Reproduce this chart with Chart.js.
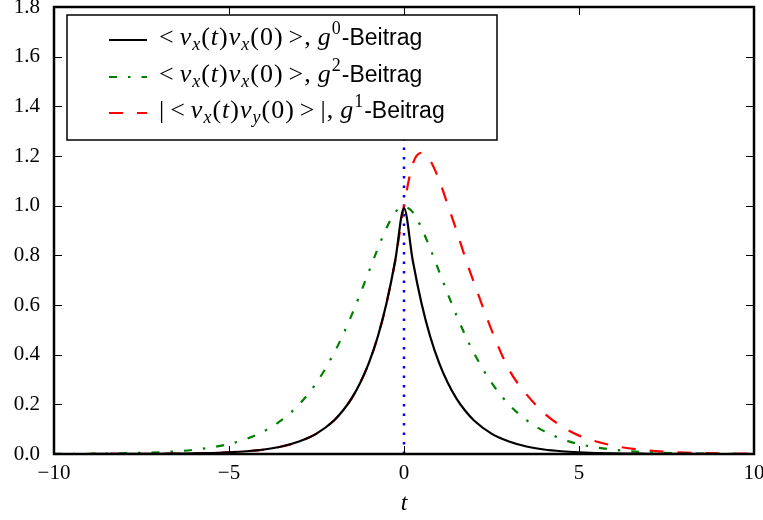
<!DOCTYPE html>
<html>
<head>
<meta charset="utf-8">
<script src="https://cdn.jsdelivr.net/npm/chart.js@4.4.1/dist/chart.umd.min.js"></script>
<style>
  html, body { margin: 0; padding: 0; background: #fff; }
  #wrap { width: 763px; height: 520px; }
</style>
</head>
<body>
<div id="wrap"><canvas id="corrChart" width="763" height="520"></canvas></div>
<script>
// t-Werte (gemeinsam für alle Kurven)
const tValues = [-10, -9, -8, -7, -6, -5, -4.5, -4, -3.5, -3, -2.5, -2, -1.75, -1.5, -1.25, -1, -0.75, -0.5, -0.25,
    0, 0.25, 0.5, 0.75, 1, 1.25, 1.5, 1.75, 2, 2.5, 3, 3.5, 4, 4.5, 5, 6, 7, 8, 9, 10];

// <vx(t)vx(0)>, g^0-Beitrag
const g0Values = [0, 0.0001, 0.0003, 0.001, 0.0025, 0.007, 0.011, 0.018, 0.03, 0.05, 0.082, 0.135, 0.174, 0.223, 0.287, 0.368, 0.472, 0.607, 0.779,
    0.99, 0.779, 0.607, 0.472, 0.368, 0.287, 0.223, 0.174, 0.135, 0.082, 0.05, 0.03, 0.018, 0.011, 0.007, 0.0025, 0.001, 0.0003, 0.0001, 0];

// <vx(t)vx(0)>, g^2-Beitrag
const g2Values = [0.0005, 0.001, 0.003, 0.007, 0.017, 0.04, 0.061, 0.092, 0.136, 0.199, 0.287, 0.406, 0.478, 0.558, 0.645, 0.736, 0.827, 0.91, 0.974,
    0.995, 0.974, 0.91, 0.827, 0.736, 0.645, 0.558, 0.478, 0.406, 0.287, 0.199, 0.136, 0.092, 0.061, 0.04, 0.017, 0.007, 0.003, 0.001, 0.0005];

// |<vx(t)vy(0)>|, g^1-Beitrag
const g1Values = [0, 0.0001, 0.0003, 0.001, 0.0025, 0.007, 0.011, 0.018, 0.03, 0.05, 0.082, 0.135, 0.174, 0.223, 0.287, 0.368, 0.472, 0.607, 0.779,
    1.0, 1.168, 1.213, 1.181, 1.104, 1.003, 0.9, 0.79, 0.69, 0.5, 0.34, 0.24, 0.165, 0.112, 0.074, 0.033, 0.014, 0.006, 0.0023, 0.001];

// vertikale Linie bei t = 0
const markerX = [0, 0];
const markerY = [0, 1.8];

const xTicks = [-10, -5, 0, 5, 10];
const yTicks = [0.0, 0.2, 0.4, 0.6, 0.8, 1.0, 1.2, 1.4, 1.6, 1.8];

const toPoints = (xs, ys) => xs.map((x, i) => ({ x: x, y: ys[i] }));

const serif = '"Liberation Serif", "DejaVu Serif", serif';
const sans = '"Liberation Sans", "DejaVu Sans", sans-serif';

// Legend entries (segments: r = roman, i = italic, sub, sup, s = sans, sp = space)
const legendRows = [
    [['r', '<'], ['sp', 5], ['i', 'v'], ['sub', 'x'], ['r', '('], ['i', 't'], ['r', ')'], ['i', 'v'], ['sub', 'x'], ['r', '('], ['r', '0'], ['r', ')'], ['sp', 5], ['r', '>'], ['r', ','], ['sp', 6], ['i', 'g'], ['sup', '0'], ['s', '-Beitrag']],
    [['r', '<'], ['sp', 5], ['i', 'v'], ['sub', 'x'], ['r', '('], ['i', 't'], ['r', ')'], ['i', 'v'], ['sub', 'x'], ['r', '('], ['r', '0'], ['r', ')'], ['sp', 5], ['r', '>'], ['r', ','], ['sp', 6], ['i', 'g'], ['sup', '2'], ['s', '-Beitrag']],
    [['r', '|'], ['sp', 5], ['r', '<'], ['sp', 5], ['i', 'v'], ['sub', 'x'], ['r', '('], ['i', 't'], ['r', ')'], ['i', 'v'], ['sub', 'y'], ['r', '('], ['r', '0'], ['r', ')'], ['sp', 5], ['r', '>'], ['sp', 5], ['r', '|'], ['r', ','], ['sp', 6], ['i', 'g'], ['sup', '1'], ['s', '-Beitrag']]
];

function segFont(kind) {
    if (kind === 'i') return 'italic 26px ' + serif;
    if (kind === 'sub') return 'italic 18px ' + serif;
    if (kind === 'sup') return '18px ' + serif;
    if (kind === 's') return '23px ' + sans;
    return '26px ' + serif;
}

function drawRich(ctx, segs, x, y) {
    ctx.textBaseline = 'alphabetic';
    ctx.textAlign = 'left';
    ctx.fillStyle = '#000';
    segs.forEach(seg => {
        if (seg[0] === 'sp') { x += seg[1]; return; }
        ctx.font = segFont(seg[0]);
        let dy = 0;
        if (seg[0] === 'sub') dy = 5;
        if (seg[0] === 'sup') dy = -11;
        ctx.fillText(seg[1], x, y + dy);
        x += ctx.measureText(seg[1]).width + (seg[0] === 's' ? 0 : 1);
    });
}

// Rahmen, Ticks nach innen und Legende
const framePlugin = {
    id: 'frame',
    afterDraw(chart) {
        const ctx = chart.ctx;
        const a = chart.chartArea;
        const xs = chart.scales.x, ys = chart.scales.y;
        ctx.save();
        ctx.strokeStyle = '#000';
        ctx.lineWidth = 1;
        const tl = 8;
        xTicks.forEach(v => {
            const px = Math.round(xs.getPixelForValue(v)) + 0.5;
            ctx.beginPath();
            ctx.moveTo(px, a.bottom); ctx.lineTo(px, a.bottom - tl);
            ctx.moveTo(px, a.top); ctx.lineTo(px, a.top + tl);
            ctx.stroke();
        });
        yTicks.forEach(v => {
            const py = Math.round(ys.getPixelForValue(v)) + 0.5;
            ctx.beginPath();
            ctx.moveTo(a.left, py); ctx.lineTo(a.left + tl, py);
            ctx.moveTo(a.right, py); ctx.lineTo(a.right - tl, py);
            ctx.stroke();
        });
        ctx.lineWidth = 2.5;
        ctx.strokeRect(a.left, a.top, a.right - a.left, a.bottom - a.top);

        // Legende
        const bx = 67, by = 15, bw = 430, bh = 125;
        ctx.fillStyle = '#fff';
        ctx.fillRect(bx, by, bw, bh);
        ctx.lineWidth = 1.5;
        ctx.strokeRect(bx, by, bw, bh);
        const rowY = [40, 77, 113];
        [0, 1, 2].forEach((di, r) => {
            const ds = chart.data.datasets[di];
            ctx.save();
            ctx.strokeStyle = ds.borderColor;
            ctx.lineWidth = ds.borderWidth;
            ctx.setLineDash(ds.borderDash || []);
            ctx.beginPath();
            ctx.moveTo(109, rowY[r]); ctx.lineTo(147, rowY[r]);
            ctx.stroke();
            ctx.restore();
            drawRich(ctx, legendRows[r], 159, rowY[r] + 5);
        });
        ctx.restore();
    }
};

new Chart(document.getElementById('corrChart').getContext('2d'), {
    type: 'line',
    data: {
        datasets: [{
            label: 'g0',
            data: toPoints(tValues, g0Values),
            borderColor: '#000000',
            borderWidth: 2.2,
            borderJoinStyle: 'round',
            cubicInterpolationMode: 'monotone',
            pointRadius: 0
        }, {
            label: 'g2',
            data: toPoints(tValues, g2Values),
            borderColor: '#008000',
            borderWidth: 2.2,
            borderDash: [8, 11, 2.5, 11],
            cubicInterpolationMode: 'monotone',
            pointRadius: 0
        }, {
            label: 'g1',
            data: toPoints(tValues, g1Values),
            borderColor: '#ff0000',
            borderWidth: 2.2,
            borderDash: [14, 14],
            cubicInterpolationMode: 'monotone',
            pointRadius: 0
        }, {
            label: 't0',
            data: toPoints(markerX, markerY),
            borderColor: '#0000ff',
            borderWidth: 2.5,
            borderDash: [2.5, 7],
            pointRadius: 0
        }]
    },
    options: {
        responsive: false,
        animation: false,
        layout: { padding: { left: 0, right: 9, top: 7, bottom: 0 } },
        plugins: {
            legend: { display: false },
            tooltip: { enabled: false }
        },
        scales: {
            x: {
                type: 'linear',
                min: -10,
                max: 10,
                grid: { display: false, drawTicks: false },
                border: { display: false },
                afterBuildTicks: s => { s.ticks = xTicks.map(v => ({ value: v })); },
                afterFit: s => { s.height = 66; s.paddingLeft = 0; s.paddingRight = 0; },
                ticks: {
                    padding: 7,
                    color: '#000',
                    maxRotation: 0,
                    font: { family: serif, size: 21 },
                    callback: v => String(v).replace('-', '\u2212')
                },
                title: {
                    display: true,
                    text: 't',
                    color: '#000',
                    padding: { top: 0, bottom: 2 },
                    font: { family: serif, size: 24, style: 'italic' }
                }
            },
            y: {
                min: 0,
                max: 1.8,
                grid: { display: false, drawTicks: false },
                border: { display: false },
                afterBuildTicks: s => { s.ticks = yTicks.map(v => ({ value: v })); },
                afterFit: s => { s.width = 54; s.paddingTop = 0; s.paddingBottom = 0; },
                ticks: {
                    padding: 14,
                    color: '#000',
                    font: { family: serif, size: 21 },
                    callback: v => Number(v).toFixed(1)
                }
            }
        }
    },
    plugins: [framePlugin]
});
</script>
</body>
</html>
